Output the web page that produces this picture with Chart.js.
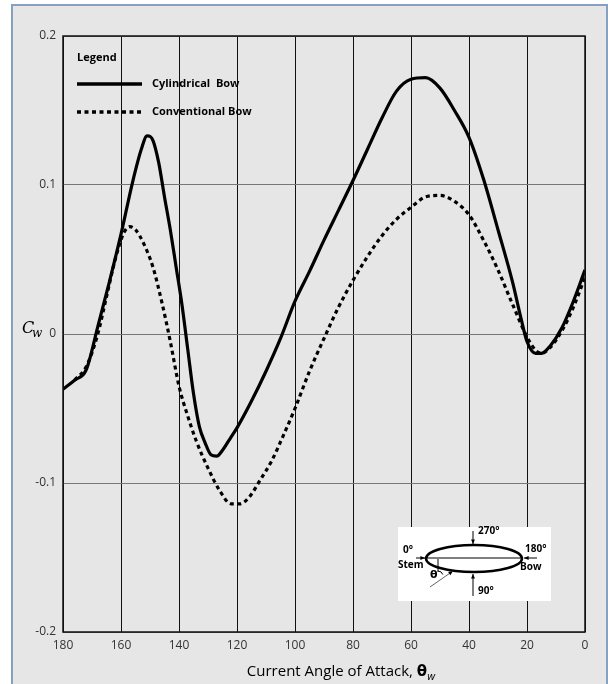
<!DOCTYPE html>
<html>
<head>
<meta charset="utf-8">
<script src="https://cdn.jsdelivr.net/npm/chart.js@4/dist/chart.umd.min.js"></script>
<style>
  html, body { margin: 0; padding: 0; background: #fff; }
  #wrap { width: 608px; height: 684px; }
</style>
</head>
<body>
<div id="wrap"><canvas id="cw"></canvas></div>
<script>
/* data */
const xTicks = [0, 20, 40, 60, 80, 100, 120, 140, 160, 180];
const yTicks = [-0.2, -0.1, 0, 0.1, 0.2];

const cylAngle = [180, 176, 172, 168, 164, 160, 156, 153, 151, 149, 147, 145, 143, 141, 139, 137, 135, 133, 131, 129, 127, 125, 122, 120, 115, 110, 105, 100, 95, 90, 85, 80, 75, 70, 65, 60, 55, 50, 45, 40, 35, 30, 25, 22, 20, 17, 15, 12, 8, 4, 0];
const cylValue = [-0.037, -0.031, -0.024, 0.005, 0.035, 0.067, 0.102, 0.124, 0.133, 0.130, 0.115, 0.092, 0.070, 0.045, 0.020, -0.010, -0.040, -0.062, -0.073, -0.081, -0.082, -0.078, -0.069, -0.063, -0.045, -0.025, -0.003, 0.022, 0.042, 0.063, 0.083, 0.103, 0.124, 0.145, 0.163, 0.171, 0.172, 0.165, 0.150, 0.132, 0.104, 0.070, 0.035, 0.010, -0.005, -0.013, -0.013, -0.008, 0.004, 0.022, 0.043];

const convAngle = [176, 172, 168, 165, 162, 159, 157, 155, 152, 149, 146, 143, 140, 137, 134, 130, 126, 122, 119, 116, 112, 108, 104, 100, 95, 90, 85, 80, 75, 70, 65, 60, 55, 50, 45, 40, 35, 30, 25, 20, 17, 15, 12, 8, 4, 0];
const convValue = [-0.031, -0.022, 0.000, 0.025, 0.050, 0.068, 0.072, 0.070, 0.060, 0.045, 0.022, -0.005, -0.035, -0.055, -0.072, -0.090, -0.105, -0.114, -0.114, -0.110, -0.098, -0.085, -0.068, -0.050, -0.025, -0.003, 0.018, 0.036, 0.052, 0.066, 0.077, 0.085, 0.092, 0.093, 0.089, 0.080, 0.063, 0.043, 0.020, -0.002, -0.011, -0.013, -0.009, 0.002, 0.018, 0.038];

function pts(a, v) {
  return a.map((x, i) => ({ x: x, y: v[i] }));
}

/* background, frame, legend, inset, axis titles */
const decor = {
  id: 'decor',
  beforeDraw(chart) {
    const c = chart.ctx;
    c.save();
    c.fillStyle = '#ffffff';
    c.fillRect(0, 0, chart.width, chart.height);
    c.fillStyle = '#e6e6e6';
    c.fillRect(12, 5, 595, 700);
    c.strokeStyle = '#86a0c0';
    c.lineWidth = 2;
    c.strokeRect(12, 5, 595, 700);
    c.restore();
  },
  afterDraw(chart) {
    const c = chart.ctx;
    const a = chart.chartArea;
    c.save();

    // plot box
    c.strokeStyle = '#111';
    c.lineWidth = 1.5;
    c.strokeRect(a.left, a.top, a.right - a.left, a.bottom - a.top);

    // legend
    c.fillStyle = '#000';
    c.font = 'bold 11px "Open Sans", sans-serif';
    c.textBaseline = 'middle';
    c.textAlign = 'left';
    c.fillText('Legend', 77, 58);
    c.strokeStyle = '#000';
    c.lineWidth = 3.5;
    c.beginPath(); c.moveTo(77, 84); c.lineTo(142, 84); c.stroke();
    c.setLineDash([4, 3.5]);
    c.beginPath(); c.moveTo(77, 112); c.lineTo(142, 112); c.stroke();
    c.setLineDash([]);
    c.fillText('Cylindrical  Bow', 152, 84);
    c.fillText('Conventional Bow', 152, 112);

    // inset sketch
    c.fillStyle = '#fff';
    c.fillRect(398, 527, 153, 74);
    c.strokeStyle = '#000';
    c.lineWidth = 2.5;
    c.beginPath(); c.ellipse(474, 558.5, 48, 13.5, 0, 0, Math.PI * 2); c.stroke();
    c.lineWidth = 1.2;
    c.beginPath(); c.moveTo(426, 558); c.lineTo(522, 558); c.stroke();
    c.lineWidth = 1;
    const arrow = (x1, y1, x2, y2) => {
      c.beginPath(); c.moveTo(x1, y1); c.lineTo(x2, y2); c.stroke();
      const ang = Math.atan2(y2 - y1, x2 - x1);
      c.beginPath();
      c.moveTo(x2, y2);
      c.lineTo(x2 - 5 * Math.cos(ang - 0.4), y2 - 5 * Math.sin(ang - 0.4));
      c.lineTo(x2 - 5 * Math.cos(ang + 0.4), y2 - 5 * Math.sin(ang + 0.4));
      c.closePath(); c.fill();
    };
    c.fillStyle = '#000';
    arrow(473, 531, 473, 544);
    arrow(537, 558, 524, 558);
    arrow(416, 558, 425, 558);
    arrow(473, 596, 473, 574);
    c.strokeStyle = '#666';
    arrow(430, 587, 453, 571);
    c.strokeStyle = '#000';
    c.beginPath(); c.moveTo(438, 559); c.lineTo(438, 572); c.stroke();
    c.beginPath(); c.arc(438, 576, 5, -Math.PI / 2, -0.3); c.stroke();
    c.font = 'bold 10px "Open Sans", sans-serif';
    c.fillText('270°', 478, 531);
    c.fillText('180°', 525, 549);
    c.fillText('0°', 403, 550);
    c.fillText('Stem', 398, 565);
    c.fillText('Bow', 520, 567);
    c.fillText('90°', 478, 591);
    c.font = 'bold 11px "DejaVu Sans", sans-serif';
    c.fillText('θ', 430, 575);

    // y title C_w
    c.font = 'italic 16px "DejaVu Serif", serif';
    c.fillText('C', 22, 329);
    c.font = 'italic 12px "DejaVu Serif", serif';
    c.fillText('w', 32, 334);

    // x title
    c.font = '15px "Open Sans", sans-serif';
    const t1 = 'Current Angle of Attack, ';
    const w1 = c.measureText(t1).width;
    c.font = 'bold 15px "DejaVu Sans", sans-serif';
    const w2 = c.measureText('θ').width;
    const x0 = 341 - (w1 + w2 + 8) / 2;
    c.font = '15px "Open Sans", sans-serif';
    c.fillText(t1, x0, 672);
    c.font = 'bold 15px "DejaVu Sans", sans-serif';
    c.fillText('θ', x0 + w1, 672);
    c.font = 'italic 11px "Open Sans", sans-serif';
    c.fillText('w', x0 + w1 + w2, 677);

    c.restore();
  }
};

const ctx = document.getElementById('cw');

new Chart(ctx, {
  type: 'line',
  data: {
    datasets: [{
      label: 'Cylindrical  Bow',
      data: pts(cylAngle, cylValue),
      borderColor: '#000',
      borderWidth: 3.2,
      pointRadius: 0,
      tension: 0.4,
      cubicInterpolationMode: 'monotone',
      fill: false
    }, {
      label: 'Conventional Bow',
      data: pts(convAngle, convValue),
      borderColor: '#000',
      borderWidth: 3.2,
      borderDash: [4, 3.5],
      pointRadius: 0,
      tension: 0.4,
      cubicInterpolationMode: 'monotone',
      fill: false
    }]
  },
  options: {
    responsive: true,
    maintainAspectRatio: false,
    animation: false,
    layout: { padding: { left: 0, top: 36, right: 23, bottom: 0 } },
    plugins: {
      legend: { display: false },
      tooltip: { enabled: false }
    },
    scales: {
      x: {
        type: 'linear',
        reverse: true,
        min: 0,
        max: 180,
        afterBuildTicks: s => { s.ticks = xTicks.map(v => ({ value: v })); },
        afterFit: s => { s.height = 52; },
        grid: { color: '#111', lineWidth: 1, drawTicks: false },
        border: { display: false },
        ticks: {
          padding: 6,
          color: '#333',
          font: { size: 12, family: '"Open Sans", sans-serif' },
          maxRotation: 0
        }
      },
      y: {
        min: -0.2,
        max: 0.2,
        afterBuildTicks: s => { s.ticks = yTicks.map(v => ({ value: v })); },
        afterFit: s => { s.width = 63; },
        grid: { color: '#777', lineWidth: 1, drawTicks: false },
        border: { display: false },
        ticks: {
          padding: 7,
          color: '#333',
          font: { size: 12, family: '"Open Sans", sans-serif' },
          callback: v => String(Math.round(v * 10) / 10)
        }
      }
    }
  },
  plugins: [decor]
});
</script>
</body>
</html>
